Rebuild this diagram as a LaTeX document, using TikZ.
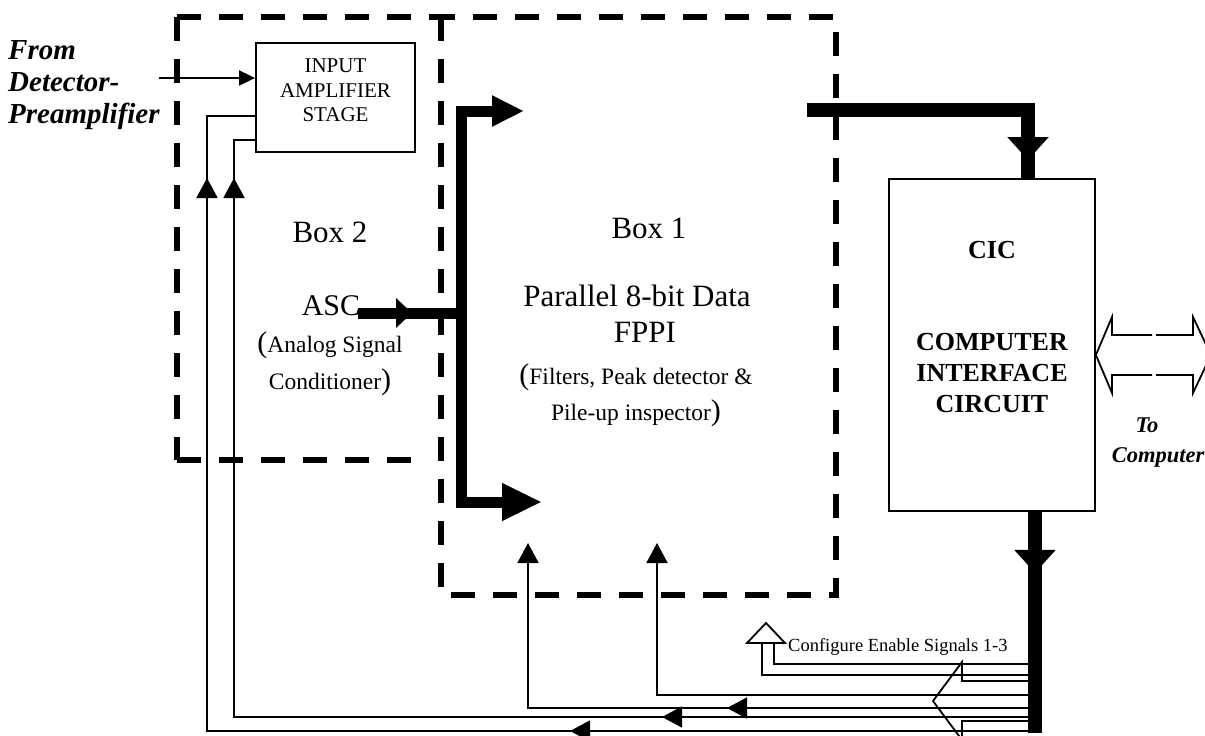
\documentclass[tikz,border=0pt]{standalone}
\usepackage{fontspec}
\setmainfont{Liberation Serif}
\usetikzlibrary{arrows.meta,decorations.markings,calc}
\newcommand*{\fsz}[2]{\fontsize{#1}{#2}\selectfont}

\begin{document}
\begin{tikzpicture}[x=1pt,y=-1pt,
  every node/.style={inner sep=0pt},
  txt/.style={anchor=base},
  boxline/.style={line width=6pt, dash pattern=on 24pt off 18pt},
  sig/.style={line width=1.8pt},
  bus/.style={line width=11pt},
  wbus/.style={line width=14pt},
  tri/.tip={Triangle[length=20pt,width=21pt]},
  btri/.tip={Triangle[length=23pt,width=40pt]},
  atri/.tip={Triangle[length=16pt,width=29pt]},
  tip/.style={-{tri}},
  mk/.style={postaction={decorate,decoration={markings,
      mark=at position #1 with {\arrow{tri}}}}},
  bigmk/.style={postaction={decorate,decoration={markings,
      mark=at position #1 with {\arrow{btri}}}}},
  ascmk/.style={postaction={decorate,decoration={markings,
      mark=at position #1 with {\arrow{atri}}}}},
 ]
  \useasboundingbox (0,0) rectangle (1205,736);

  % the two dashed boxes
  \draw[boxline] (441,17) rectangle (836,595);
  \draw[boxline] (177,17) -- (441,17);
  \draw[boxline] (177,17) -- (177,460);
  \draw[boxline] (177,460) -- (425,460);

  % blocks
  \node[draw, sig, minimum width=159pt, minimum height=109pt] (inamp) at (335.5,97.5) {};
  \node[align=center, font=\fsz{21}{24.5}] (inamptext) at (335.5,90.5)
    {INPUT\\AMPLIFIER\\STAGE};
  \node[draw, sig, minimum width=206pt, minimum height=332pt] (cic) at (992,345) {};

  % texts
  \node[anchor=west, align=left, font=\fsz{29}{32}\bfseries\itshape] (from) at (8,85.5)
    {From\\Detector-\\Preamplifier};
  \node[txt, font=\fsz{31}{36}] (boxtwo) at (330,242) {Box 2};
  \node[txt, font=\fsz{30}{36}] (asc) at (331,315) {ASC};
  \node[txt, font=\fsz{23.5}{28}] (ascl1) at (330,352) {{\fsz{30}{36}(}Analog Signal};
  \node[txt, font=\fsz{23.5}{28}] (ascl2) at (330,389) {Conditioner{\fsz{30}{36})}};
  \node[txt, font=\fsz{31}{36}] (boxone) at (649,238) {Box 1};
  \node[txt, font=\fsz{31}{36}] (pdata) at (637,306) {Parallel 8-bit Data};
  \node[txt, font=\fsz{31}{36}] (fppi) at (645,342) {FPPI};
  \node[txt, font=\fsz{23.5}{28}] (fppil1) at (636,384) {{\fsz{30}{36}(}Filters, Peak detector \&};
  \node[txt, font=\fsz{23.5}{28}] (fppil2) at (636,420) {Pile-up inspector{\fsz{30}{36})}};
  \node[txt, font=\fsz{26}{30}\bfseries] (cictitle) at (992,258) {CIC};
  \node[txt, font=\fsz{26}{30}\bfseries] (cicl1) at (992,350) {COMPUTER};
  \node[txt, font=\fsz{26}{30}\bfseries] (cicl2) at (992,381) {INTERFACE};
  \node[txt, font=\fsz{26}{30}\bfseries] (cicl3) at (992,412) {CIRCUIT};
  \node[txt, font=\fsz{22.5}{26}\bfseries\itshape] (tocomp1) at (1147,432) {To};
  \node[txt, font=\fsz{22.5}{26}\bfseries\itshape] (tocomp2) at (1158,462) {Computer};
  \node[anchor=base west, font=\fsz{18.5}{22}] (cfgtext) at (788,651)
    {Configure Enable Signals 1-3};

  \coordinate (det) at (159,78);
  \coordinate (ctl) at ([xshift=43pt]cic.south);
  \coordinate (cin) at ([xshift=36pt]cic.north);
  \coordinate (cfg) at (766,643);
  \coordinate (dout) at (807,110);
  \coordinate (dtop) at (524,111);
  \coordinate (dbot) at (542,502);
  \coordinate (ascout) at (358,313);

  % detector input
  \draw[sig, -{Triangle[length=16pt,width=15pt]}] (det) -- (inamp.west |- det);

  % control lines from the CIC
  \draw[sig, mk=465pt, mk=1381pt] (ctl |- 0,731) -- (207,731) -- (207,116) -- (inamp.west |- 0,116);
  \draw[sig, mk=373pt, mk=1340pt] (ctl |- 0,717) -- (234,717) -- (234,140) -- (inamp.west |- 0,140);
  \draw[sig, tip, mk=308pt] (ctl |- 0,708) -- (528,708) -- (528,543);
  \draw[sig, tip] (ctl |- 0,695) -- (657,695) -- (657,543);
  \draw[sig] (ctl |- 0,664) -- ($(cfg)+(8,21)$) -- ($(cfg)+(8,0)$);
  \draw[sig] (ctl |- 0,675) -- ($(cfg)+(-4,32)$) -- ($(cfg)+(-4,0)$);
  \draw[sig, fill=white] ($(cfg)+(-19,0)$) -- ($(cfg)+(0,-20)$) -- ($(cfg)+(19,0)$) -- cycle;
  \draw[sig] (ctl |- 0,681) -- (962,681) -- (962,662) -- (933,701) -- (962,740)
    -- (962,721) -- (ctl |- 0,721);

  % to computer
  \draw[sig] (1152,335) -- (1112,335) -- (1112,317) -- (cic.east |- 0,355) -- (1112,393)
    -- (1112,375) -- (1152,375);
  \draw[sig] (1156,335) -- (1193,335) -- (1193,317) -- (1211,355) -- (1193,393)
    -- (1193,375) -- (1156,375);

  % data paths
  \draw[bus, {Triangle[length=32pt,width=29pt]}-{Triangle[length=40pt,width=35pt]}]
    (dtop) -- (461,111) -- (461,502) -- (dbot);
  \draw[bus, ascmk=54pt] (ascout) -- (461,313);
  \draw[wbus, bigmk=271pt] (dout) -- (dout -| cin) -- (cin);
  \draw[wbus, bigmk=61pt] (ctl) -- (ctl |- 0,733);
\end{tikzpicture}
\end{document}
